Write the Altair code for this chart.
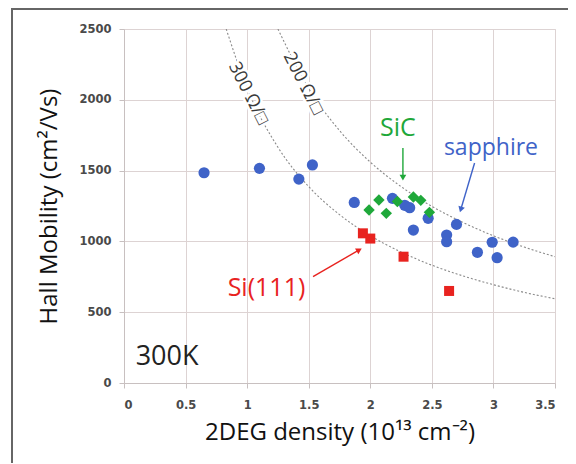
import altair as alt
import pandas as pd

# ---- data ----
sapphire_n = [0.65, 1.10, 1.42, 1.53, 1.87, 2.18, 2.28, 2.32, 2.35, 2.47, 2.62, 2.62, 2.70, 2.87, 2.99, 3.03, 3.16]
sapphire_mu = [1485, 1516, 1440, 1540, 1275, 1304, 1255, 1238, 1080, 1163, 1045, 998, 1120, 923, 994, 885, 995]

sic_n = [1.99, 2.07, 2.13, 2.22, 2.35, 2.41, 2.48]
sic_mu = [1222, 1292, 1198, 1282, 1314, 1290, 1205]

si_n = [1.94, 2.00, 2.27, 2.64]
si_mu = [1057, 1020, 892, 650]

# constant sheet-resistance reference curves
r300_n = [0.83, 1.0, 1.25, 1.5, 1.75, 2.0, 2.25, 2.5, 2.75, 3.0, 3.25, 3.5]
r300_mu = [2500, 2080, 1665, 1387, 1189, 1040, 925, 832, 757, 694, 640, 595]
r200_n = [1.25, 1.5, 1.75, 2.0, 2.25, 2.5, 2.75, 3.0, 3.25, 3.5]
r200_mu = [2500, 2080, 1783, 1560, 1387, 1248, 1135, 1040, 960, 892]

x_ticks = [0, 0.5, 1, 1.5, 2, 2.5, 3, 3.5]
y_ticks = [0, 500, 1000, 1500, 2000, 2500]

BLUE = "#3f63c8"
GREEN = "#1fa83a"
RED = "#e8231f"
TITLE_FONT = "Open Sans"
TICK_FONT = "DejaVu Sans"
GRID = "#ddd3d3"

xs = alt.Scale(domain=[0, 3.5], nice=False, zero=False)
ys = alt.Scale(domain=[0, 2500], nice=False)

X = lambda f="n": alt.X(f"{f}:Q", scale=xs)
Y = lambda f="mu": alt.Y(f"{f}:Q", scale=ys)

df_sap = pd.DataFrame({"n": sapphire_n, "mu": sapphire_mu})
df_sic = pd.DataFrame({"n": sic_n, "mu": sic_mu})
df_si = pd.DataFrame({"n": si_n, "mu": si_mu})
df_c = pd.concat([
    pd.DataFrame({"n": r300_n, "mu": r300_mu, "R": "300"}),
    pd.DataFrame({"n": r200_n, "mu": r200_mu, "R": "200"}),
])

base_axes = alt.Chart(df_sap).mark_point(opacity=0).encode(
    x=alt.X("n:Q", scale=xs, title="2DEG density (10¹³ cm⁻²)",
            axis=alt.Axis(values=x_ticks, format="~g", grid=True, gridColor=GRID,
                          domain=True, domainColor="#c8c0c0", tickColor="#c8c0c0", tickSize=5,
                          labelFont=TICK_FONT, labelFontWeight="bold", labelFontSize=11.5,
                          labelColor="#4a4a4a", labelPadding=11,
                          titleFont=TITLE_FONT, titleFontWeight="normal", titleFontSize=24,
                          titleColor="#111", titlePadding=10)),
    y=alt.Y("mu:Q", scale=ys, title="Hall Mobility (cm²/Vs)",
            axis=alt.Axis(values=y_ticks, format="d", grid=True, gridColor=GRID,
                          domain=True, domainColor="#c8c0c0", tickColor="#c8c0c0", tickSize=5,
                          labelFont=TICK_FONT, labelFontWeight="bold", labelFontSize=11.5,
                          labelColor="#4a4a4a", labelPadding=8,
                          titleFont=TITLE_FONT, titleFontWeight="normal", titleFontSize=24,
                          titleColor="#111", titlePadding=17)),
)

curves = alt.Chart(df_c).mark_line(color="#8a8a8a", strokeDash=[2, 2], strokeWidth=1.1,
                                   interpolate="monotone", clip=True).encode(
    x=X(), y=Y(), detail="R:N")

curve_lbl = pd.DataFrame({"n": [1.008, 1.454], "mu": [2046, 2116], "t": ["300 Ω/□", "200 Ω/□"]})
lbl_bg = alt.Chart(curve_lbl).mark_text(angle=63, fontSize=18, font=TITLE_FONT, color="white",
                                        stroke="white", strokeWidth=5).encode(x=X(), y=Y(), text="t:N")
lbl = alt.Chart(curve_lbl).mark_text(angle=63, fontSize=18, font=TITLE_FONT, color="#3a3a3a").encode(
    x=X(), y=Y(), text="t:N")

sap = alt.Chart(df_sap).mark_circle(size=125, color=BLUE, opacity=1).encode(x=X(), y=Y())
sic = alt.Chart(df_sic).mark_point(shape="diamond", size=130, filled=True, color=GREEN, opacity=1).encode(x=X(), y=Y())
si = alt.Chart(df_si).mark_square(size=100, color=RED, opacity=1).encode(x=X(), y=Y())

# annotations
def txt(n, mu, s, color, size):
    return alt.Chart(pd.DataFrame({"n": [n], "mu": [mu], "t": [s]})).mark_text(
        font=TITLE_FONT, fontSize=size, color=color).encode(x=X(), y=Y(), text="t:N")

def arrow(n1, mu1, n2, mu2, color, ang):
    seg = alt.Chart(pd.DataFrame({"n": [n1], "mu": [mu1], "n2": [n2], "mu2": [mu2]})).mark_rule(
        color=color, strokeWidth=1.4).encode(x=X(), y=Y(), x2="n2:Q", y2="mu2:Q")
    head = alt.Chart(pd.DataFrame({"n": [n2], "mu": [mu2]})).mark_point(
        shape="triangle-down", filled=True, size=45, color=color, opacity=1, angle=ang).encode(x=X(), y=Y())
    return seg + head

ann = (
    txt(2.225, 1799, "SiC", GREEN, 25)
    + arrow(2.265, 1660, 2.265, 1450, GREEN, 0)
    + txt(2.98, 1657, "sapphire", BLUE, 23)
    + arrow(2.847, 1554, 2.735, 1225, BLUE, 17)
    + txt(1.157, 669, "Si(111)", RED, 25)
    + arrow(1.535, 751, 1.91, 940, RED, 240)
    + txt(0.35, 184, "300K", "#222", 27)
)

frame = (
    alt.Chart(df_sap).mark_rule(color="#666", strokeWidth=2).encode(
        x=alt.value(-112), x2=alt.value(460), y=alt.value(-20))
    + alt.Chart(df_sap).mark_rule(color="#666", strokeWidth=2).encode(
        x=alt.value(-112), y=alt.value(-21), y2=alt.value(460))
)

chart = alt.layer(base_axes, curves, lbl_bg, lbl, sap, sic, si, ann, frame).properties(
    width=431, height=354,
    autosize=alt.AutoSizeParams(type="none"),
    padding={"left": 116, "top": 21, "right": 13, "bottom": 80},
).configure_view(stroke=None).configure(background="white")

chart.save("out.html", embed_options={"renderer": "svg", "actions": False})
